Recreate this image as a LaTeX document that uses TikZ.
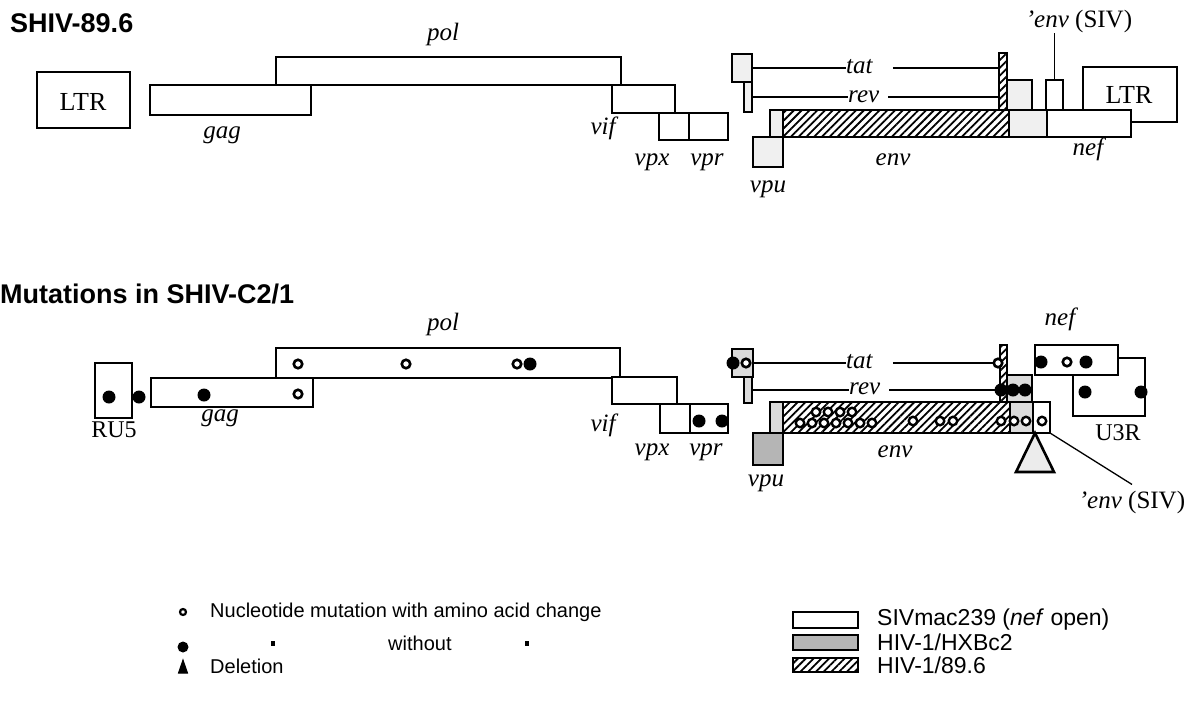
\documentclass[tikz,border=0pt]{standalone}
\usepackage{fontspec}
\setmainfont{Liberation Serif}
\setsansfont{Liberation Sans}
\usetikzlibrary{patterns.meta}
\newcommand\gb[6][gene]{\node[#1,minimum width=#5pt-#3pt,minimum height=#6pt-#4pt] (#2) at ({(#3+#5)/2},{(#4+#6)/2}) {};}
\begin{document}
\begin{tikzpicture}[x=1pt,y=-1pt,
  box/.style={draw, line width=2.6pt, inner sep=0pt, outer sep=0pt},
  gene/.style={box, fill=white},
  lite/.style={box, fill=gray!12},
  mid/.style={box, fill=gray!28},
  dark/.style={box, fill=gray!58},
  hatch/.style={box, pattern={Lines[angle=45,distance=5.5pt,line width=1.8pt]}},
  conn/.style={line width=1.3pt},
  od/.style={circle, draw, fill=white, line width=2.6pt, minimum size=8.5pt, inner sep=0pt},
  oe/.style={circle, draw, fill=white, line width=2.4pt, minimum size=8.5pt, inner sep=0pt},
  fd/.style={circle, fill=black, minimum size=13pt, inner sep=0pt},
  lab/.style={font=\fontsize{25}{28}\selectfont\itshape, inner sep=0pt, anchor=base},
  rom/.style={font=\fontsize{26}{30}\selectfont, inner sep=0pt, anchor=base},
  roms/.style={font=\fontsize{24}{28}\selectfont, inner sep=0pt, anchor=base},
  ttl/.style={font=\fontsize{27}{32}\selectfont\sffamily\bfseries, inner sep=0pt, anchor=base west},
  leg/.style={font=\fontsize{20}{24}\selectfont\sffamily, inner sep=0pt, anchor=base west},
  legb/.style={font=\fontsize{23}{27}\selectfont\sffamily, inner sep=0pt, anchor=base west},
  ditto/.style={fill=black, minimum width=4pt, minimum height=5pt, inner sep=0pt},
  tri/.style={line width=2.6pt, line join=miter, fill=gray!15}]
\useasboundingbox (0,0) rectangle (1191,702);
\clip (0,0) rectangle (1191,702);

% titles
\node[ttl] (t1) at (10,32) {SHIV-89.6};
\node[ttl] (t2) at (0,303) {Mutations in SHIV-C2/1};

% ================= top construct
\gb{ltrL}{37}{72}{130}{128}
\node[rom] (ltrLt) at (83,110) {LTR};
\gb{polA}{276}{57}{621}{85}
\gb{gagA}{150}{85}{311}{115}
\gb{vifA}{612}{85}{675}{113}
\gb{vpxA}{659}{113}{689}{140}
\gb{vprA}{689}{113}{728}{140}
\node[lab] (polAl) at (443,40) {pol};
\node[lab] (gagAl) at (222,138) {gag};
\node[lab] (vifAl) at (603,134) {vif};
\node[lab] (vpxAl) at (652,165) {vpx};
\node[lab] (vprAl) at (707,165) {vpr};

\gb[lite]{tatA}{732}{54}{752}{82}
\gb[lite]{revA}{744}{82}{752}{112}
\gb[lite]{vpuA}{753}{137}{783}{167}
\gb[lite]{envA1}{770}{110}{783}{137}
\gb[hatch]{envA2}{783}{110}{1009}{137}
\gb[lite]{envA3}{1009}{110}{1047}{137}
\gb[hatch]{hbA}{999}{53}{1007}{110}
\gb[lite]{sbA}{1007}{80}{1032}{110}
\gb{ltrR}{1083}{67}{1177}{122}
\gb{nefA}{1047}{110}{1131}{137}
\gb{esA}{1046}{80}{1063}{110}
\node[rom] (ltrRt) at (1129,103) {LTR};

\node[lab, anchor=base west] (tatAL) at (846,73) {tat};
\node[lab, anchor=base west] (revAL) at (848,102) {rev};
\coordinate (tatAR) at ([xshift=20pt]tatAL.east);
\coordinate (revAR) at ([xshift=9pt]revAL.east);
\draw[conn] (tatA.east) -- (tatA.east -| tatAL.west);
\draw[conn] (tatAR |- tatA.east) -- (hbA.west |- tatA.east);
\draw[conn] (revA.east) -- (revA.east -| revAL.west);
\draw[conn] (revAR |- revA.east) -- (hbA.west |- revA.east);

\node[rom, font=\fontsize{25}{28}\selectfont] (esAL) at (1079,27) {{\itshape 'env} (SIV)};
\draw[conn] (esA.north) -- (esA.north |- esAL.south);

\node[lab] (envAl) at (893,165) {env};
\node[lab] (vpuAl) at (768,192) {vpu};
\node[lab] (nefAl) at (1088,155) {nef};

% ================= bottom construct
\gb{ru5}{95}{363}{132}{418}
\gb{polB}{276}{348}{620}{378}
\gb{gagB}{151}{378}{313}{407}
\gb{vifB}{612}{377}{677}{404}
\gb{vpxB}{660}{404}{690}{433}
\gb{vprB}{690}{404}{728}{433}
\node[roms] (ru5l) at (114,437) {RU5};
\node[lab] (gagBl) at (220,421) {gag};
\node[lab] (polBl) at (443,330) {pol};
\node[lab] (vifBl) at (603,431) {vif};
\node[lab] (vpxBl) at (652,455) {vpx};
\node[lab] (vprBl) at (706,455) {vpr};

\node[fd] (m1) at (109,397) {};
\node[fd] (m2) at (139,397) {};
\node[fd] (m3) at (204,395) {};
\node[od] (m4) at (298,394) {};
\node[od] (m5) at (298,364) {};
\node[od] (m6) at (406,364) {};
\node[od] (m7) at (517,364) {};
\node[fd] (m8) at (530,364) {};
\node[fd] (m9) at (699,421) {};
\node[fd] (m10) at (722,421) {};

\gb[mid]{tatB}{732}{349}{753}{377}
\gb[mid]{revB}{744}{377}{752}{403}
\gb[dark]{vpuB}{753}{433}{783}{465}
\gb[mid]{envB1}{770}{402}{783}{433}
\gb[hatch]{envB2}{783}{402}{1010}{433}
\gb[mid]{envB3}{1010}{402}{1033}{433}
\gb{envB4}{1033}{402}{1050}{433}
\gb[hatch]{hbB}{1000}{345}{1007}{402}
\gb[mid]{sbB}{1007}{375}{1032}{402}
\gb{u3r}{1073}{358}{1145}{416}
\gb{nefB}{1035}{345}{1118}{375}

\node[lab, anchor=base west] (tatBL) at (846,368) {tat};
\node[lab, anchor=base west] (revBL) at (849,394) {rev};
\coordinate (tatBR) at ([xshift=20pt]tatBL.east);
\coordinate (revBR) at ([xshift=9pt]revBL.east);
\draw[conn] (tatB.east) -- (tatB.east -| tatBL.west);
\draw[conn] (tatBR |- tatB.east) -- (hbB.west |- tatB.east);
\draw[conn] (revB.east) -- (revB.east -| revBL.west);
\draw[conn] (revBR |- revB.east) -- (hbB.west |- revB.east);

\node[fd] (n1) at (733,363) {};
\node[od] (n2) at (746,363) {};
\node[od] (n3) at (998,363) {};
\node[fd] (n4) at (1001,390) {};
\node[fd] (n5) at (1013,390) {};
\node[fd] (n6) at (1025,390) {};

% env mutations
\node[oe] (e1) at (816,412) {};
\node[oe] (e2) at (828,412) {};
\node[oe] (e3) at (840,412) {};
\node[oe] (e4) at (852,412) {};
\node[oe] (e5) at (800,423) {};
\node[oe] (e6) at (812,423) {};
\node[oe] (e7) at (824,423) {};
\node[oe] (e8) at (836,423) {};
\node[oe] (e9) at (848,423) {};
\node[oe] (e10) at (860,423) {};
\node[oe] (e11) at (872,423) {};
\node[oe] (e12) at (913,421) {};
\node[oe] (e13) at (940,421) {};
\node[oe] (e14) at (953,421) {};
\node[oe] (e15) at (1001,421) {};
\node[oe] (e16) at (1014,421) {};
\node[oe] (e17) at (1026,421) {};
\node[oe] (e18) at (1042,421) {};

% nef / U3R mutations
\node[fd] (f1) at (1041,362) {};
\node[od] (f2) at (1067,362) {};
\node[fd] (f3) at (1086,362) {};
\node[fd] (f4) at (1085,392) {};
\node[fd] (f5) at (1141,392) {};

\draw[tri] (1035,433) -- (1016,472) -- (1054,472) -- cycle;

\node[lab] (nefBl) at (1060,325) {nef};
\node[roms] (u3rl) at (1118,440) {U3R};
\node[lab] (envBl) at (895,457) {env};
\node[lab] (vpuBl) at (766,486) {vpu};
\node[rom, font=\fontsize{25}{28}\selectfont] (esBL) at (1132,508) {{\itshape 'env} (SIV)};
\draw[conn] (envB4.south east) -- ([yshift=6pt]esBL.north);

% ================= legend
\node[od, minimum size=6pt, line width=2.2pt] (lo) at (183,612) {};
\node[fd, minimum size=11pt] (lf) at (183,647) {};
\draw[fill=black, line width=1pt, line join=miter] (178.5,673) -- (183,660) -- (187.5,673) -- cycle;
\node[leg] (lt1) at (210,617) {Nucleotide mutation with amino acid change};
\node[ditto] (d1) at (273,643) {};
\node[ditto] (d2) at (527,643) {};
\node[leg] (lt2) at (388,650) {without};
\node[leg] (lt3) at (210,673) {Deletion};

\gb{lb1}{793}{612}{858}{628}
\gb[dark]{lb2}{793}{635}{858}{650}
\gb[hatch]{lb3}{793}{658}{858}{672}
\node[legb] (lr1) at (877,625) {SIVmac239 (\textit{nef} open)};
\node[legb] (lr2) at (877,650) {HIV-1/HXBc2};
\node[legb] (lr3) at (877,673) {HIV-1/89.6};
\end{tikzpicture}
\end{document}
